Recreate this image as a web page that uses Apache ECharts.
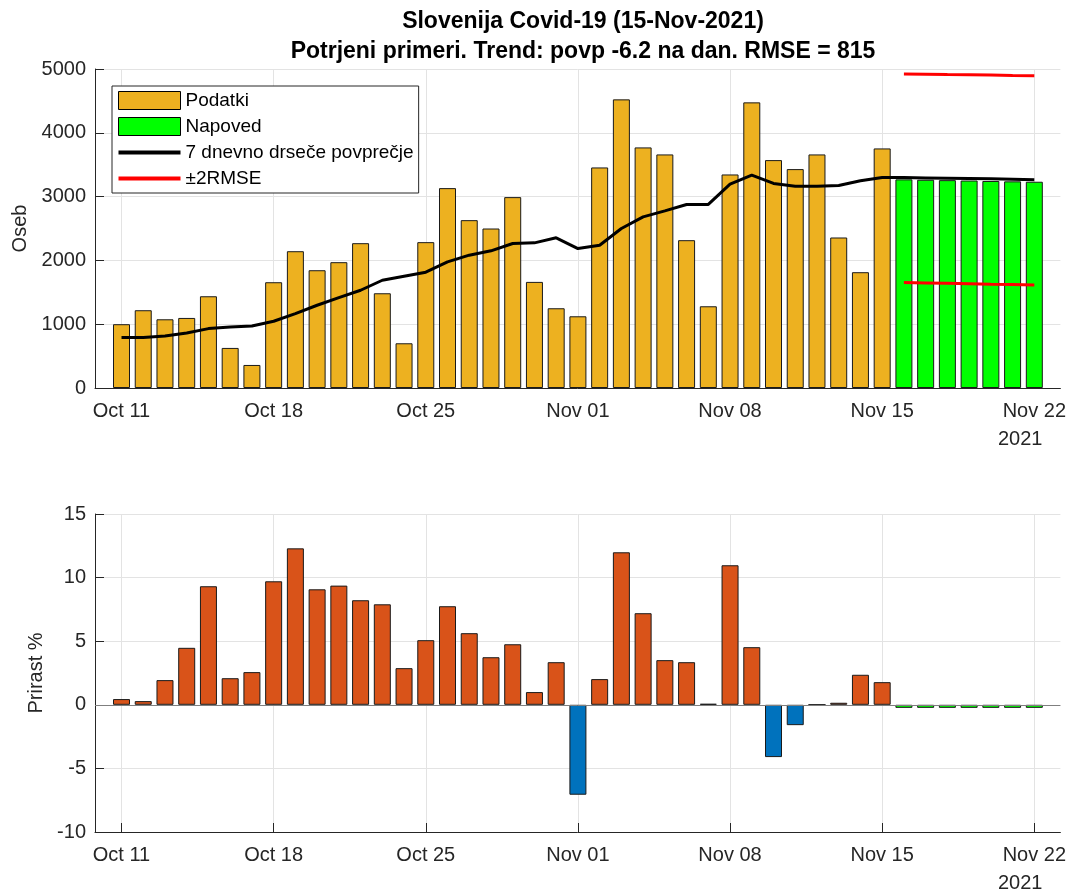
<!DOCTYPE html>
<html>
<head>
<meta charset="utf-8">
<script src="https://cdn.jsdelivr.net/npm/echarts@6/dist/echarts.min.js"></script>
<style>
  html, body { margin: 0; background: #fff; }
  #chart { width: 1069px; height: 892px; }
</style>
</head>
<body>
<div id="chart"></div>
<script>
// dnevi od 11. okt (0) do 22. nov (42)
const tickDays = [0, 7, 14, 21, 28, 35, 42];
const tickLabels = ['Oct 11', 'Oct 18', 'Oct 25', 'Nov 01', 'Nov 08', 'Nov 15', 'Nov 22'];

// potrjeni primeri 11. okt - 15. nov
const cases = [1000, 1219, 1077, 1098, 1438, 628, 361, 1658, 2144, 1846, 1972, 2270, 1485, 701,
  2286, 3133, 2631, 2500, 2992, 1663, 1250, 1124, 3457, 4524, 3771, 3661, 2317, 1281,
  3347, 4477, 3572, 3431, 3661, 2359, 1815, 3755];
// napoved 16. nov - 22. nov
const forecast = [3270, 3264, 3258, 3252, 3245, 3239, 3233];
// 7 dnevno drsece povprecje
const movingAvg = [790, 790, 816, 863, 931, 957, 973, 1046, 1166, 1297, 1417, 1532, 1689, 1752,
  1815, 1977, 2082, 2150, 2265, 2275, 2354, 2186, 2238, 2500, 2683, 2777, 2877, 2877,
  3196, 3337, 3206, 3164, 3164, 3175, 3248, 3300, 3298, 3293, 3288, 3283, 3278, 3273, 3265];
const rmseUpper = [4921, 4917, 4912, 4908, 4904, 4899, 4895];
const rmseLower = [1653, 1647, 1641, 1635, 1628, 1622, 1616];

// prirast %
const growth = [0.45, 0.29, 1.94, 4.48, 9.32, 2.09, 2.57, 9.71, 12.3, 9.08, 9.37, 8.22, 7.9, 2.88,
  5.08, 7.75, 5.63, 3.74, 4.76, 1.0, 3.35, -7.07, 2.02, 11.99, 7.2, 3.51, 3.35, 0.08,
  10.97, 4.53, -4.11, -1.6, 0, 0.16, 2.36, 1.78];
const growthForecast = [-0.24, -0.24, -0.24, -0.24, -0.24, -0.24, -0.24];

const nData = cases.length;
const pts = (arr, start) => arr.map((v, i) => [start + i, v]);

const txt = '#262626';
const font = 'Liberation Sans, Arial, sans-serif';
const gridColor = '#e3e3e3';
const lineIcon = 'path://M0,0M62,18M0,7H62V11H0Z';

const xAxisBase = (gridIndex) => ({
  type: 'value',
  gridIndex: gridIndex,
  min: -1.22,
  max: 43.2,
  axisLine: { show: true, onZero: false, lineStyle: { color: txt, width: 1 } },
  axisTick: { show: true, inside: true, length: 9, customValues: tickDays, lineStyle: { color: txt } },
  axisLabel: {
    customValues: tickDays,
    margin: 13,
    color: txt,
    fontSize: 20,
    fontFamily: font,
    formatter: (v) => tickLabels[tickDays.indexOf(v)] || ''
  },
  splitLine: { show: true, lineStyle: { color: gridColor, width: 1 } }
});

const yAxisBase = (gridIndex) => ({
  type: 'value',
  gridIndex: gridIndex,
  nameLocation: 'middle',
  nameTextStyle: { color: txt, fontSize: 20, fontFamily: font },
  axisLine: { show: true, onZero: false, lineStyle: { color: txt, width: 1 } },
  axisTick: { show: true, inside: true, length: 9, lineStyle: { color: txt } },
  axisLabel: { margin: 9, color: txt, fontSize: 20, fontFamily: font, formatter: (v) => String(v) },
  splitLine: { show: true, lineStyle: { color: gridColor, width: 1 } }
});

const chart = echarts.init(document.getElementById('chart'));

chart.setOption({
  animation: false,
  backgroundColor: '#fff',
  title: {
    text: 'Slovenija Covid-19 (15-Nov-2021)\nPotrjeni primeri. Trend: povp -6.2 na dan. RMSE = 815',
    left: 578,
    top: 2,
    textAlign: 'center',
    textStyle: { fontSize: 23, fontWeight: 'bold', color: '#000', fontFamily: font, lineHeight: 30 }
  },
  legend: {
    left: 112,
    top: 86,
    orient: 'vertical',
    itemWidth: 62,
    itemHeight: 18,
    itemGap: 7,
    padding: [5, 5, 5, 6],
    borderColor: txt,
    borderWidth: 1,
    backgroundColor: '#fff',
    selectedMode: false,
    textStyle: { fontSize: 19, color: '#000', fontFamily: font },
    data: [
      { name: 'Podatki', icon: 'rect', itemStyle: { color: '#EDB120', borderColor: '#000', borderWidth: 1 } },
      { name: 'Napoved', icon: 'rect', itemStyle: { color: '#00FF00', borderColor: '#000', borderWidth: 1 } },
      { name: '7 dnevno drseče povprečje', icon: lineIcon, itemStyle: { color: '#000', borderWidth: 0 } },
      { name: '±2RMSE', icon: lineIcon, itemStyle: { color: '#FF0000', borderWidth: 0 } }
    ]
  },
  grid: [
    { left: 95, right: 7, top: 69, bottom: 504 },
    { left: 95, right: 7, top: 514, bottom: 60 }
  ],
  xAxis: [xAxisBase(0), xAxisBase(1)],
  yAxis: [
    Object.assign(yAxisBase(0), { name: 'Oseb', nameGap: 64, min: 0, max: 5000, interval: 1000 }),
    Object.assign(yAxisBase(1), { name: 'Prirast %', nameGap: 46, min: -10, max: 15, interval: 5 })
  ],
  series: [
    {
      name: 'Podatki', type: 'bar', xAxisIndex: 0, yAxisIndex: 0,
      data: pts(cases, 0), barWidth: 17, barGap: '-100%',
      itemStyle: { color: '#EDB120', borderColor: '#1a1a1a', borderWidth: 1 }
    },
    {
      name: 'Napoved', type: 'bar', xAxisIndex: 0, yAxisIndex: 0,
      data: pts(forecast, nData), barWidth: 17, barGap: '-100%',
      itemStyle: { color: '#00FF00', borderColor: '#1a1a1a', borderWidth: 1 }
    },
    {
      name: '7 dnevno drseče povprečje', type: 'line', xAxisIndex: 0, yAxisIndex: 0,
      data: pts(movingAvg, 0), symbol: 'none', color: '#000',
      lineStyle: { color: '#000', width: 3 }, z: 4
    },
    {
      name: '±2RMSE', type: 'line', xAxisIndex: 0, yAxisIndex: 0,
      data: pts(rmseUpper, nData), symbol: 'none', color: '#FF0000',
      lineStyle: { color: '#FF0000', width: 3 }, z: 4
    },
    {
      name: '±2RMSE', type: 'line', xAxisIndex: 0, yAxisIndex: 0,
      data: pts(rmseLower, nData), symbol: 'none', color: '#FF0000',
      lineStyle: { color: '#FF0000', width: 3 }, z: 4
    },
    {
      name: 'Prirast', type: 'bar', xAxisIndex: 1, yAxisIndex: 1,
      data: pts(growth, 0), barWidth: 17, barGap: '-100%',
      itemStyle: {
        color: (p) => (p.value[1] < 0 ? '#0072BD' : '#D95319'),
        borderColor: '#1a1a1a', borderWidth: 1
      },
      markLine: {
        silent: true, symbol: 'none', label: { show: false },
        lineStyle: { color: '#7f7f7f', width: 1, type: 'solid' },
        data: [{ yAxis: 0 }]
      }
    },
    {
      name: 'Prirast napoved', type: 'bar', xAxisIndex: 1, yAxisIndex: 1,
      data: pts(growthForecast, nData), barWidth: 17, barGap: '-100%',
      itemStyle: { color: '#00FF00', borderColor: '#1a1a1a', borderWidth: 1 }
    }
  ],
  graphic: [
    { type: 'text', left: 998, top: 429, style: { text: '2021', fontSize: 20, fontFamily: font, fill: txt } },
    { type: 'text', left: 998, top: 873, style: { text: '2021', fontSize: 20, fontFamily: font, fill: txt } }
  ]
});
</script>
</body>
</html>
